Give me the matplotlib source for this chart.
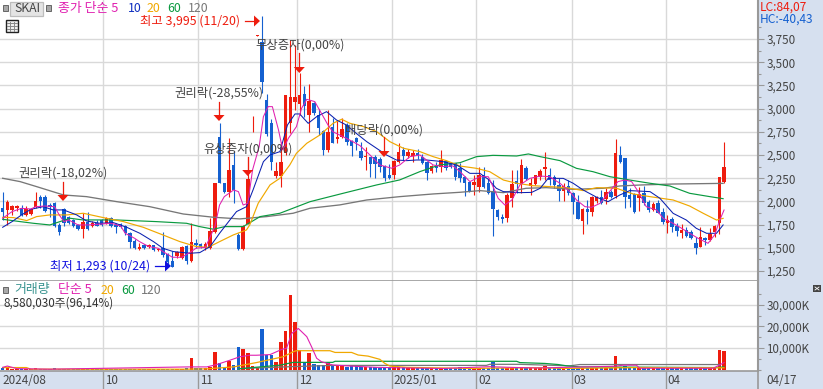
import numpy as np
import matplotlib
matplotlib.use('Agg')
import matplotlib.pyplot as plt
from matplotlib.patches import Rectangle, Polygon

plt.rcParams['font.family'] = ['Noto Sans CJK KR', 'DejaVu Sans']

W, H = 823, 389

#시세 (가격)
opens = [1925,1908,1908,1925,1925,1855,1865,1935,2045,2051,
         1960,1987,1745,1915,1836,1800,1745,1700,1782,1735,
         1764,1800,1770,1818,1745,1755,1735,1656,1575,1487,
         1530,1505,1527,1477,1495,1430,1358,1415,1387,1520,
         1362,1556,1540,1495,1495,1675,2697,2195,2105,2393,
         1638,1484,1757,2915,3785,3721,3093,2842,2274,2274,
         2518,2841,3075,3049,3157,2931,3057,2931,2763,2554,
         2806,2669,2698,2824,2655,2680,2543,2475,2482,2482,
         2454,2382,2285,2285,2428,2554,2490,2490,2518,2475,
         2428,2332,2393,2375,2439,2410,2410,2357,2267,2213,
         2177,2159,2284,2202,2116,1907,1835,1825,2033,2220,
         2187,2363,2166,2187,2266,2345,2284,2266,2177,2112,
         2166,2087,1997,1789,1918,1889,2008,2044,2022,2105,
         2058,2500,2464,2069,2080,2040,2087,1990,1907,1979,
         1889,1763,1810,1738,1663,1692,1674,1555,1512,1609,
         1584,1674,1771,2212]
highs = [2105,2015,1960,1960,1960,1945,1925,2105,2070,2070,
         1980,1998,1764,1925,1845,1810,1755,1880,1890,1785,
         1800,1815,1835,1830,1764,1770,1745,1665,1590,1549,
         1540,1540,1535,1500,1665,1441,1460,1470,1520,1530,
         1770,1590,1550,1560,1818,2202,2841,2195,2680,2540,
         1656,1745,2475,2924,3795,3995,3157,2890,2428,2644,
         3147,3740,3685,3380,3243,3265,3070,3000,2770,2985,
         2895,2877,2895,2842,2662,2698,2644,2590,2482,2500,
         2482,2393,2400,2446,2626,2590,2560,2554,2565,2510,
         2440,2395,2428,2554,2446,2425,2418,2410,2274,2213,
         2285,2375,2374,2238,2230,1914,1865,2087,2338,2338,
         2453,2381,2248,2284,2345,2529,2356,2284,2248,2195,
         2230,2105,2069,1925,2015,2058,2058,2123,2148,2123,
         2669,2597,2471,2141,2087,2159,2166,2015,1997,2015,
         1925,1853,1835,1763,1753,1720,1692,1613,1720,1620,
         1710,1745,2266,2636]
lows = [1800,1745,1855,1900,1845,1845,1855,1925,1925,1890,
        1836,1720,1640,1735,1760,1725,1690,1600,1692,1725,
        1730,1735,1760,1725,1656,1710,1640,1495,1485,1477,
        1490,1500,1470,1470,1405,1315,1293,1390,1376,1325,
        1350,1500,1495,1480,1485,1656,2195,2085,2051,1980,
        1480,1475,1757,2745,3785,3170,2700,2340,2250,2159,
        2500,2733,2985,2931,2913,2750,2935,2716,2500,2536,
        2626,2626,2680,2608,2490,2554,2446,2339,2260,2249,
        2321,2224,2238,2238,2410,2450,2470,2428,2460,2400,
        2231,2310,2321,2321,2339,2360,2231,2213,2058,2105,
        2070,2105,2141,2080,1630,1800,1763,1781,1943,2087,
        2087,2230,2069,2177,2230,2230,2177,2141,2004,2004,
        2069,1864,1806,1648,1756,1842,1979,1972,1972,2033,
        2033,2410,1925,1943,1878,1896,1961,1889,1900,1871,
        1756,1656,1674,1627,1609,1620,1591,1433,1510,1530,
        1577,1620,1648,2202]
closes = [1890,1998,1950,1945,1855,1915,1918,2008,2005,1900,
          1943,1735,1675,1764,1770,1735,1700,1782,1700,1770,
          1735,1745,1825,1735,1720,1720,1656,1566,1495,1505,
          1495,1530,1477,1487,1423,1350,1297,1458,1513,1362,
          1566,1525,1513,1538,1685,2195,2201,2105,2338,2123,
          1484,1735,2242,2924,3795,3290,2722,2428,2331,2428,
          3147,3121,3121,3147,3028,3085,2949,2788,2554,2752,
          2633,2698,2777,2644,2597,2644,2464,2493,2400,2403,
          2375,2249,2256,2439,2536,2490,2536,2525,2500,2410,
          2303,2382,2357,2446,2357,2375,2260,2249,2202,2116,
          2213,2285,2159,2087,1918,1828,1806,2069,2187,2184,
          2392,2238,2195,2284,2327,2374,2230,2177,2112,2166,
          2087,1997,1810,1918,1882,2051,2044,1986,2098,2044,
          2518,2428,2044,2022,1889,2080,1979,1907,1972,1878,
          1781,1799,1727,1684,1692,1627,1602,1494,1620,1584,
          1648,1735,2259,2367]

#거래량 (천주)
volume = [600,800,400,400,350,350,300,900,300,300,
          400,500,300,300,300,300,250,300,250,250,
          250,250,250,250,250,250,300,300,300,250,
          250,250,300,250,300,300,400,300,400,500,
          5100,600,500,500,1200,7900,3200,500,3900,2300,
          10300,9400,7500,1400,500,18700,6900,6500,3600,12900,
          18000,34500,22100,9000,3200,7800,2500,2000,2000,2900,
          2000,2000,2000,1000,1600,1600,1000,1000,1000,1000,
          500,500,1000,1900,1000,1000,700,700,700,700,
          600,600,600,600,600,600,600,1100,600,500,
          500,500,500,500,3600,800,800,800,800,800,
          800,800,800,700,700,1500,700,700,700,700,
          600,600,600,600,600,600,600,600,600,600,
          6200,1000,1400,1200,1000,800,600,600,600,600,
          600,600,600,600,600,600,600,600,600,600,
          600,600,8900,8580]

#이동평균
ma5_x = [0,2,4,6,7,9,11,12,13,14,16,18,20,23,25,26,28,29,31,33,34,36,38,40,41,43,45,46,47,49,50,51,52,53,54.4,55.3,56.3,57.2,58.5,59.4,60.6,62.3,63.4,64.5,66.2,68,69,70,72.2,74.4,75.8,77.9,80,82.5,84.2,86.4,88.5,89.9,91.3,93.4,95.5,97,99.1,101.2,103,104,105.1,106.5,108,109.7,111.8,114,116,118.2,120.3,121.7,123.5,124.9,126.7,128.4,130.5,132,133.4,134.8,136.5,138.7,140.1,142.2,144,145.7,147.5,149.6,151,152.1,153]
ma5_y = [1818,1890,1925,1918,1943,1950,1943,1854,1782,1800,1746,1746,1753,1764,1735,1656,1602,1567,1513,1495,1459,1398,1398,1459,1495,1505,1728,1961,2051,2123,2105,1961,1980,2339,2590,2913,3021,3021,2770,2554,2680,2805,3003,3100,3075,2913,2823,2751,2697,2640,2600,2500,2392,2357,2392,2482,2500,2446,2392,2375,2382,2320,2213,2266,2266,2159,2033,1961,2015,2177,2248,2273,2266,2195,2105,2015,1943,1936,1979,2087,2213,2230,2213,2105,1943,1907,1817,1763,1710,1656,1602,1548,1638,1799,1907]
ma10_x = [0,2,4,6,8.6,10.7,12.9,15.7,17.8,20.6,23.5,26.3,29.1,32,34,36.2,39.7,41.8,44,46,48.2,49.6,51.7,53.1,55.3,56.7,58.8,60.4,62,63,64.8,66.6,68.7,70.8,72.9,75,77.2,79.3,81.4,83.5,85.7,87.8,89.9,93.4,96.3,99.1,101.2,103,104.7,106.2,109.7,112.2,114,115.7,118.9,121,123.1,126,128.4,130.9,133,137.3,139.4,142.2,145,147.1,149.3,151.4,152.8]
ma10_y = [1721,1782,1854,1915,1943,1908,1908,1854,1789,1764,1771,1721,1656,1566,1494,1459,1441,1448,1513,1656,1800,1890,1943,2123,2428,2500,2536,2823,2942,2942,2841,2913,2967,2877,2823,2733,2644,2572,2500,2446,2439,2446,2446,2428,2392,2302,2302,2238,2141,2105,2094,2097,2141,2248,2248,2195,2123,2044,1997,2069,2116,2105,2033,1871,1799,1710,1656,1656,1746]
ma20_x = [0,2.3,5.1,7.2,10,13.6,17.1,22,25.6,29.8,34,37.6,41.1,43.6,46,48.9,51.7,52.4,54.2,56.7,58.8,60.9,62.3,64.5,67.3,70.1,71.9,73.6,76.5,79.3,82.1,85,88.5,91.3,94.1,97,100.5,103.3,106.2,109,112.5,116,119.6,123.1,126,130.2,133.7,137.3,142.2,145.7,148.6,151.4,152.8]
ma20_y = [1828,1825,1793,1836,1854,1854,1872,1818,1782,1721,1638,1566,1513,1505,1566,1638,1692,1746,1980,2177,2249,2393,2518,2626,2716,2842,2885,2842,2806,2752,2644,2572,2536,2482,2439,2381,2356,2320,2230,2195,2169,2159,2148,2116,2148,2141,2080,2051,2015,1950,1871,1799,1817]
ma60_x = [0,3.7,6.5,10,14.3,17,21,24,32.6,39,41.8,44.7,47.1,51,54.6,58.8,65.2,72.2,79.3,84.2,88.5,92.7,97,100.5,104,109,111.5,114,118.2,121.7,125.2,128.8,133,137.3,141.5,145.7,150,152.8]
ma60_y = [1807,1782,1764,1746,1818,1800,1800,1800,1782,1764,1728,1700,1728,1728,1836,1872,1997,2087,2177,2231,2321,2393,2417,2482,2496,2489,2511,2482,2439,2356,2320,2266,2230,2195,2166,2087,2051,2029]
ma120_x = [0,3.7,7.2,12.9,17.8,24.2,31.2,38.3,44.7,50.3,56,61.6,65.2,71.5,77.2,84.2,91.3,97,101.2,106.2,111,115.3,121,127.4,130.9,135.5,142.2,152.8]
ma120_y = [2249,2213,2159,2069,2051,1997,1943,1864,1829,1811,1836,1872,1926,1962,2015,2051,2080,2098,2116,2094,2141,2148,2130,2141,2166,2177,2187,2194]

vma5_x = [0,1,3,10,39.4,43.3,45.4,48.2,50.3,52.4,53.8,56.7,59.2,60.2,61.3,62.7,64.5,65.5,66.6,67.6,70,73.6,79.3,86.4,93.4,103.3,107.6,113.2,129.8,131.6,134.4,135.1,150.7,152,153]
vma5_y = [1000,1600,400,150,1200,1200,2300,4300,5900,6600,6600,6900,9300,9800,16700,19000,15200,10600,5200,3600,2100,1600,1000,700,500,1300,1000,700,1500,2000,2000,600,600,2000,3200]
vma20_x = [0,5,6,39,43.3,49,53.8,59.5,61.6,62.3,69.4,70.5,74,75.4,77.5,80,81,82.1,85.7,99,113.2,120,135,152,153]
vma20_y = [900,900,150,150,300,1200,3200,5900,8200,8700,8700,7900,7900,6700,6200,4700,2900,1600,1000,500,850,500,900,800,800]
vma60_x = [50,54.6,58.8,61.6,70,70.5,109,109.7,115,117.8,119.6,122.4,151.4,153]
vma60_y = [300,1200,2000,3300,3300,3800,3800,3200,2800,2300,1700,1200,900,1200]
vma120_x = [50,61,70,102.6,103.3,109.7,114,120.3,122.4,152]
vma120_y = [400,1300,1900,1900,2400,2400,2100,1700,2300,2300]

price_ticks = [1250,1500,1750,2000,2250,2500,2750,3000,3250,3500,3750]
price_minor = [1375,1625,1875,2125,2375,2625,2875,3125,3375,3625,3875]
vol_ticks = [10000,20000,30000]
vol_minor = [0,5000,15000,25000,35000]
month_pos = [21.34,41.5,62.5,82.5,100.4,120.7,140.6]
month_labels = ['10','11','12','2025/01','02','03','04']

RED = '#ee1c0e'
BLUE = '#1460d0'
MAG = '#e020b0'
NAVY = '#0a20b0'
ORG = '#f0a800'
GRN = '#0a9a40'
GRY = '#777777'
GRID = '#d9d9d9'
AXC = '#999999'
TXT = '#444444'
PANEL = '#d6e0ef'

def axes_px(x0, y0, x1, y1):
    return fig.add_axes([x0/W, 1-y1/H, (x1-x0)/W, (y1-y0)/H])

fig = plt.figure(figsize=(W/100, H/100), dpi=100, facecolor=PANEL)

idx = np.arange(len(closes))
xlim = (-0.566, 160.2)
o = np.array(opens)
c = np.array(closes)
colors = [RED if b >= a else BLUE for a, b in zip(opens, closes)]

#가격 차트
ax = axes_px(0, 0, 758, 281)
ax.set_xlim(xlim)
ax.set_ylim(1142, 4170)
ax.vlines(idx, lows, highs, colors=colors, linewidth=0.8, zorder=3)
ax.bar(idx, np.abs(c-o), bottom=np.minimum(o, c), width=0.74, color=colors, linewidth=0, zorder=3)
ax.plot(ma120_x, ma120_y, color=GRY, lw=0.95, zorder=4)
ax.plot(ma60_x, ma60_y, color=GRN, lw=0.85, zorder=4)
ax.plot(ma20_x, ma20_y, color=ORG, lw=0.85, zorder=4)
ax.plot(ma10_x, ma10_y, color=NAVY, lw=0.75, zorder=4)
ax.plot(ma5_x, ma5_y, color=MAG, lw=0.75, zorder=4)

ax.yaxis.tick_right()
ax.set_yticks(price_ticks)
ax.set_yticklabels(['{:,}'.format(v) for v in price_ticks])
ax.set_yticks(price_minor, minor=True)
ax.set_xticks(month_pos)
ax.tick_params(axis='x', length=0, labelbottom=False)
ax.tick_params(axis='y', which='major', length=4.5, width=0.8, color=AXC, labelcolor=TXT, labelsize=8.4, pad=1.5)
ax.tick_params(axis='y', which='minor', length=2.2, width=0.8, color=AXC)
ax.grid(True, which='major', color=GRID, lw=1.0, zorder=0)
ax.set_axisbelow(True)
for s in ['top', 'left']:
    ax.spines[s].set_visible(False)
ax.spines['right'].set_color(AXC)
ax.spines['right'].set_linewidth(1.5)
ax.spines['bottom'].set_color(AXC)
ax.spines['bottom'].set_linewidth(1.2)

#거래량 차트
av = axes_px(0, 281, 758, 371)
av.set_xlim(xlim)
av.set_ylim(-694, 40972)
av.bar(idx, volume, width=0.74, color=colors, linewidth=0, zorder=3)
av.plot(vma120_x, vma120_y, color=GRY, lw=0.9, zorder=4)
av.plot(vma60_x, vma60_y, color=GRN, lw=0.9, zorder=4)
av.plot(vma20_x, vma20_y, color=ORG, lw=0.9, zorder=4)
av.plot(vma5_x, vma5_y, color=MAG, lw=0.8, zorder=4)
av.yaxis.tick_right()
av.set_yticks(vol_ticks)
av.set_yticklabels(['{:,}K'.format(v) for v in vol_ticks])
av.set_yticks(vol_minor, minor=True)
av.set_xticks(month_pos)
av.set_xticklabels([])
av.tick_params(axis='x', length=13, width=1.0, color=AXC, direction='out')
av.tick_params(axis='y', which='major', length=4.5, width=0.8, color=AXC, labelcolor=TXT, labelsize=8.4, pad=1.5)
av.tick_params(axis='y', which='minor', length=2.2, width=0.8, color=AXC)
av.grid(True, which='major', color=GRID, lw=1.0, zorder=0)
av.set_axisbelow(True)
for s in ['top', 'left']:
    av.spines[s].set_visible(False)
av.spines['right'].set_color(AXC)
av.spines['right'].set_linewidth(1.5)
av.spines['bottom'].set_color(AXC)
av.spines['bottom'].set_linewidth(1.2)

for pos, lab in zip(month_pos, month_labels):
    av.annotate(lab, xy=(pos, 0), xycoords=('data', 'axes fraction'), xytext=(1.5, -6.5),
                textcoords='offset points', color=TXT, fontsize=8.4, ha='left', va='center',
                annotation_clip=False)

#픽셀 좌표 오버레이
ov = fig.add_axes([0, 0, 1, 1], facecolor='none')
ov.set_xlim(0, W)
ov.set_ylim(H, 0)
ov.axis('off')

def txt(x, y, s, color=TXT, size=8.9, ha='left'):
    ov.text(x, y, s, color=color, fontsize=size, ha=ha, va='center')

def down_arrow(x, y0, y1):
    ov.plot([x, x], [y0, y1-5], color=RED, lw=0.9, zorder=6)
    ov.add_patch(Polygon([[x-5.5, y1-6], [x+5.5, y1-6], [x, y1]], color=RED, lw=0, zorder=6))

def right_arrow(x0, x1, y, color):
    ov.plot([x0, x1-5], [y, y], color=color, lw=0.9, zorder=6)
    ov.add_patch(Polygon([[x1-6, y-5.5], [x1-6, y+5.5], [x1, y]], color=color, lw=0, zorder=6))

#상단 범례
ov.add_patch(Rectangle((3, 5), 5, 6, fc='#a8a8a8', ec='#666666', lw=0.7))
ov.add_patch(Rectangle((10, 1.5), 33, 14, fc='#e4e4e4', ec='#bdbdbd', lw=0.9))
txt(14.5, 8.5, 'SKAI', color='#444444', size=8.8)
ov.add_patch(Rectangle((46, 5), 5, 6, fc='#a8a8a8', ec='#666666', lw=0.7))
txt(58, 8.5, '종가 단순 5', color=MAG, size=9.3)
txt(128, 8.5, '10', color='#1030c0')
txt(147, 8.5, '20', color=ORG)
txt(167, 8.5, '60', color=GRN)
txt(188, 8.5, '120', color=GRY)

#격자 아이콘
ov.add_patch(Rectangle((6, 20), 12, 12, fc='#f0f0f0', ec='#222222', lw=1.0))
for v in [10, 14]:
    ov.plot([v, v], [22, 31], color='#888888', lw=0.7)
for v in [23, 26, 29]:
    ov.plot([7, 17], [v, v], color='#888888', lw=0.7)

txt(760, 7, 'LC:84,07', color=RED, size=8.6)
txt(760, 19, 'HC:-40,43', color='#1460d0', size=8.6)

#최고 / 최저
txt(240, 21, '최고 3,995 (11/20)', color=RED, ha='right')
right_arrow(245, 260, 21, RED)
txt(150, 266, '최저 1,293 (10/24)', color='#1010e0', ha='right')
right_arrow(155, 171, 266, '#1010e0')

#권리락 등
txt(18, 173, '권리락(-18,02%)')
down_arrow(63, 182, 201)
txt(174, 93, '권리락(-28,55%)')
down_arrow(219, 102, 121)
txt(203, 149, '유상증자(0,00%)')
down_arrow(247.7, 157, 176)
txt(255, 45, '무상증자(0,00%)')
down_arrow(299.3, 53, 73)
txt(345, 130, '배당락(0,00%)')
down_arrow(384, 137, 157)

#거래량 범례
ov.add_patch(Rectangle((3, 287), 5, 6, fc='#a8a8a8', ec='#666666', lw=0.7))
txt(14, 290, '거래량', color='#3a9490', size=9.3)
txt(58, 290, '단순 5', color=MAG, size=9.3)
txt(101, 290, '20', color=ORG)
txt(121, 290, '60', color=GRN)
txt(141, 290, '120', color=GRY)
txt(4, 303, '8,580,030주(96,14%)', color='#333333', size=8.4)

#하단 날짜
txt(2, 380, '2024/08', size=8.4)
ov.plot([758, 758], [371, 389], color=AXC, lw=1.2)
txt(766.5, 380, '04/17', size=8.4)

#확대 버튼
ov.add_patch(Rectangle((813, 285), 8, 7, fc='#444444', ec='none'))
ov.plot([815, 819], [287, 290], color='white', lw=0.6)
ov.plot([815, 819], [290, 287], color='white', lw=0.6)

fig.savefig('out.png', dpi=100, facecolor=fig.get_facecolor())
